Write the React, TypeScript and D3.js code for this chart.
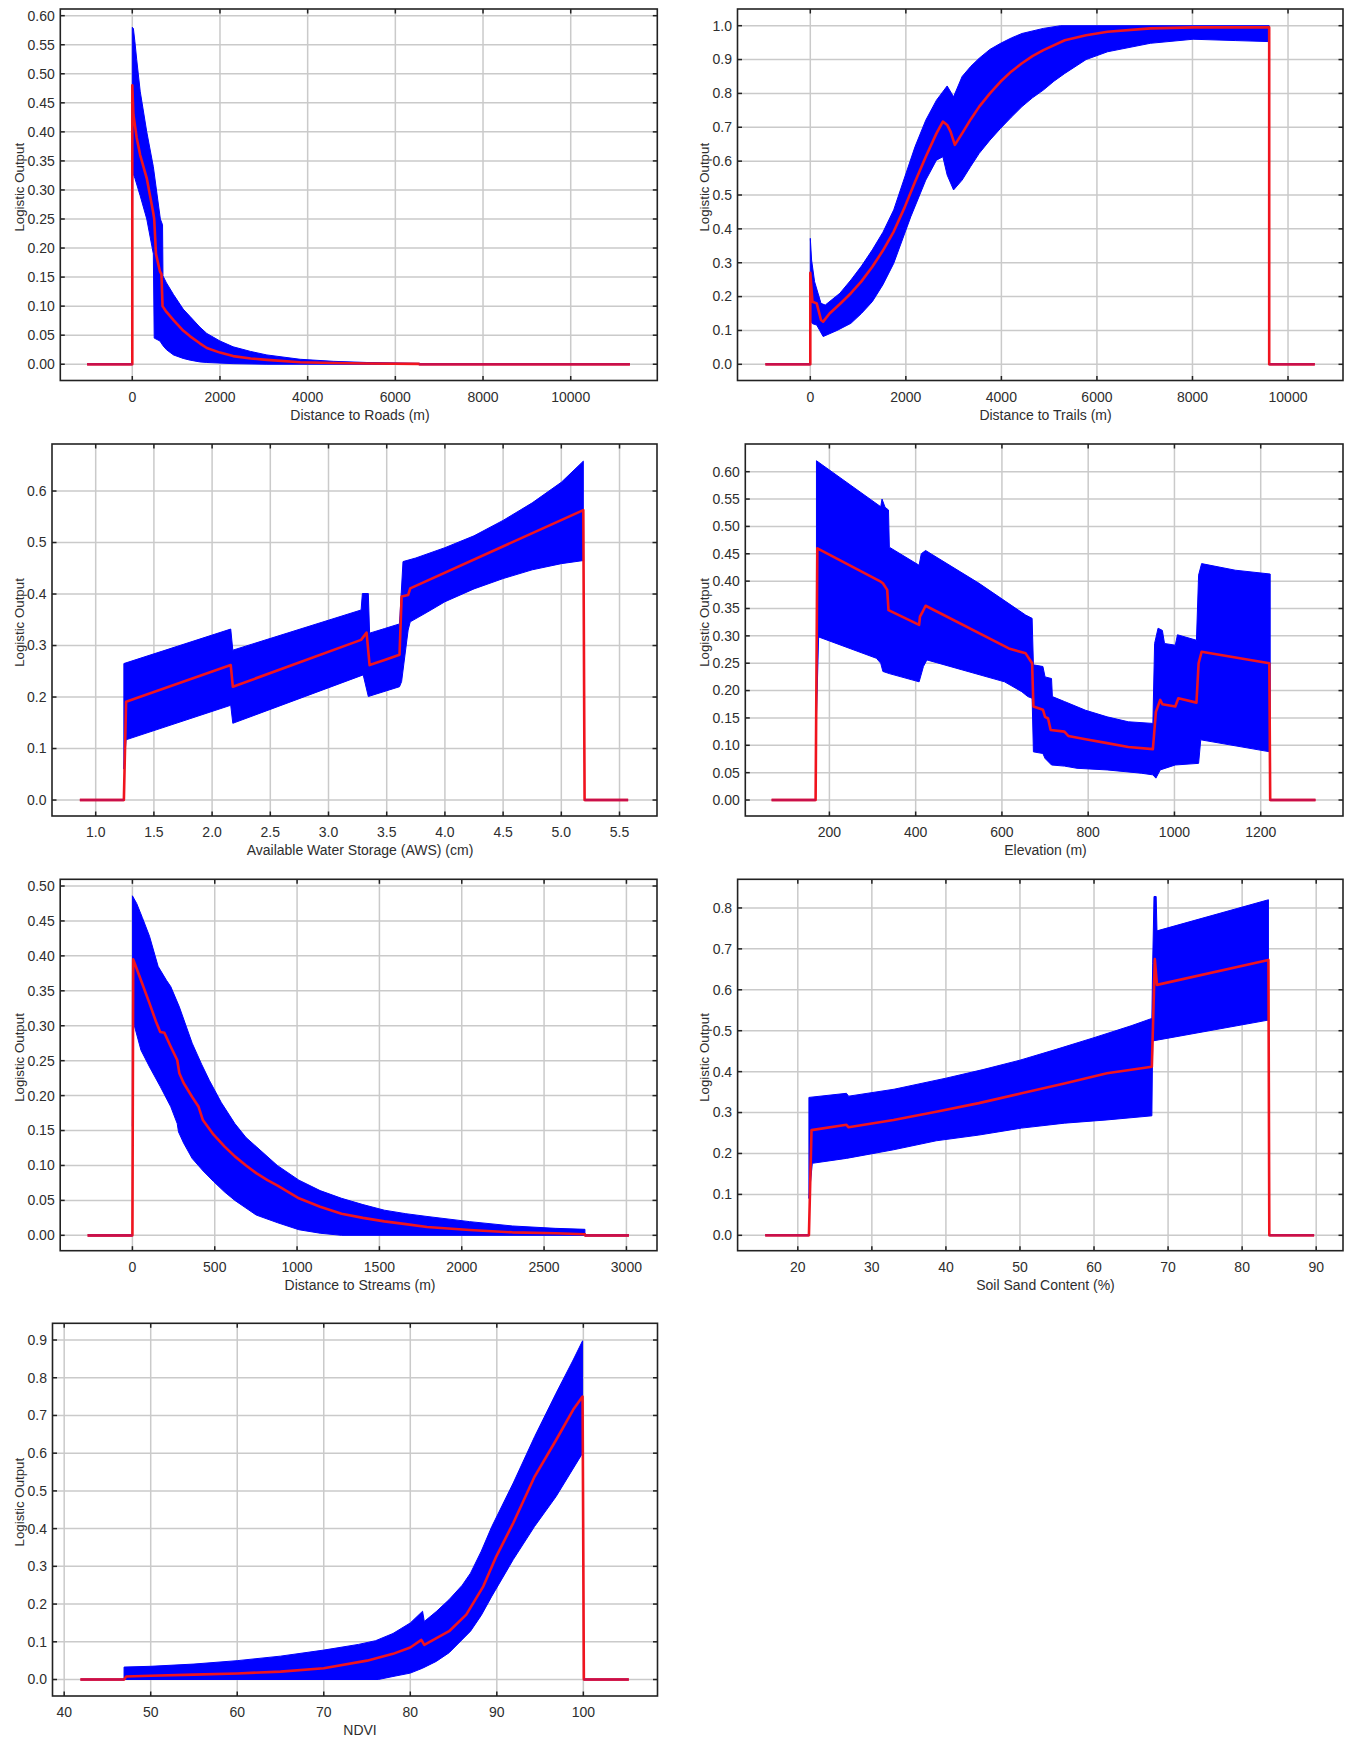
import React from 'react';
import * as d3 from 'd3';

type Pt = [number, number];

// ---- Distance to Roads (m) ----
const roadsMean: Pt[] = [[-1030, 0], [0, 0], [0, 0.48], [25, 0.43], [100, 0.39], [180, 0.36], [330, 0.32], [480, 0.26], [500, 0.25], [540, 0.19], [630, 0.16], [665, 0.155], [690, 0.1], [780, 0.09], [940, 0.076], [1160, 0.058], [1320, 0.048], [1540, 0.036], [1700, 0.028], [2000, 0.02], [2300, 0.014], [2700, 0.01], [3070, 0.0075], [3830, 0.0035], [4590, 0.002], [5350, 0.0012], [6540, 0.0006], [6540, 0], [11350, 0]];
const roadsHi: Pt[] = [[0, 0.58], [25, 0.578], [60, 0.555], [100, 0.525], [180, 0.47], [330, 0.4], [480, 0.34], [640, 0.25], [690, 0.24], [700, 0.152], [780, 0.14], [940, 0.12], [1160, 0.095], [1320, 0.082], [1540, 0.064], [1700, 0.053], [2000, 0.04], [2300, 0.03], [2700, 0.022], [3070, 0.016], [3830, 0.0085], [4590, 0.005], [5350, 0.003], [6540, 0.0015]];
const roadsLo: Pt[] = [[0, 0.19], [10, 0.33], [60, 0.32], [180, 0.29], [330, 0.25], [480, 0.19], [500, 0.045], [630, 0.04], [700, 0.032], [780, 0.025], [940, 0.016], [1160, 0.01], [1320, 0.007], [1540, 0.004], [1700, 0.003], [2300, 0.001], [3070, 0], [6540, 0]];

// ---- Distance to Trails (m) ----
const trailsMean: Pt[] = [[-940, 0], [0, 0], [0, 0.27], [45, 0.185], [134, 0.18], [224, 0.131], [269, 0.126], [403, 0.15], [620, 0.178], [850, 0.21], [1070, 0.245], [1298, 0.288], [1520, 0.336], [1746, 0.392], [1970, 0.462], [2193, 0.539], [2417, 0.613], [2641, 0.682], [2775, 0.717], [2865, 0.707], [2936, 0.687], [3026, 0.648], [3178, 0.682], [3360, 0.724], [3536, 0.761], [3760, 0.8], [3984, 0.835], [4210, 0.865], [4431, 0.889], [4650, 0.91], [4879, 0.928], [5327, 0.957], [5774, 0.972], [6222, 0.982], [7117, 0.992], [8013, 0.995], [9606, 0.995], [9606, 0], [10560, 0]];
const trailsHi: Pt[] = [[0, 0.372], [27, 0.308], [90, 0.244], [224, 0.18], [313, 0.175], [620, 0.21], [850, 0.249], [1070, 0.29], [1298, 0.338], [1520, 0.39], [1746, 0.456], [1970, 0.55], [2193, 0.643], [2417, 0.721], [2641, 0.78], [2865, 0.822], [2999, 0.79], [3178, 0.85], [3360, 0.88], [3536, 0.904], [3760, 0.93], [3984, 0.948], [4210, 0.964], [4431, 0.977], [4879, 0.992], [5237, 1.0], [9606, 1.0]];
const trailsLo: Pt[] = [[0, 0.13], [45, 0.12], [134, 0.116], [269, 0.082], [560, 0.1], [850, 0.121], [1070, 0.15], [1298, 0.185], [1520, 0.235], [1746, 0.298], [2104, 0.436], [2417, 0.544], [2641, 0.603], [2775, 0.613], [2865, 0.559], [2999, 0.515], [3178, 0.544], [3360, 0.585], [3536, 0.623], [3760, 0.662], [3984, 0.697], [4210, 0.73], [4431, 0.761], [4650, 0.787], [4879, 0.81], [5100, 0.836], [5327, 0.859], [5774, 0.9], [6222, 0.923], [7117, 0.948], [8013, 0.96], [8908, 0.956], [9606, 0.953]];

// ---- Available Water Storage (AWS) (cm) ----
const awsMean: Pt[] = [[0.864, 0], [1.242, 0], [1.261, 0.191], [2.16, 0.262], [2.178, 0.22], [3.28, 0.311], [3.327, 0.325], [3.353, 0.262], [3.482, 0.272], [3.61, 0.282], [3.628, 0.395], [3.684, 0.398], [3.702, 0.411], [5.189, 0.563], [5.2, 0], [5.574, 0]];
const awsHi: Pt[] = [[1.242, 0.265], [2.16, 0.332], [2.178, 0.291], [3.28, 0.369], [3.291, 0.401], [3.342, 0.401], [3.353, 0.324], [3.482, 0.333], [3.61, 0.342], [3.64, 0.463], [3.75, 0.47], [4.0, 0.49], [4.25, 0.513], [4.5, 0.543], [4.75, 0.577], [5.0, 0.617], [5.189, 0.658]];
const awsLo: Pt[] = [[1.242, 0.06], [1.261, 0.117], [2.16, 0.184], [2.178, 0.149], [3.298, 0.243], [3.342, 0.201], [3.61, 0.22], [3.628, 0.23], [3.684, 0.33], [3.702, 0.346], [3.85, 0.365], [4.0, 0.385], [4.25, 0.41], [4.5, 0.43], [4.75, 0.447], [5.0, 0.459], [5.189, 0.465]];

// ---- Elevation (m) ----
const elevMean: Pt[] = [[66, 0], [168, 0], [172, 0.46], [319, 0.399], [324, 0.396], [334, 0.384], [337, 0.347], [408, 0.32], [410, 0.335], [416, 0.344], [423, 0.355], [616, 0.277], [655, 0.268], [665, 0.256], [670, 0.25], [673, 0.171], [695, 0.165], [700, 0.152], [707, 0.149], [713, 0.128], [745, 0.125], [754, 0.117], [794, 0.111], [844, 0.104], [893, 0.097], [950, 0.093], [957, 0.161], [967, 0.183], [972, 0.175], [1002, 0.171], [1009, 0.186], [1051, 0.178], [1056, 0.25], [1063, 0.271], [1220, 0.25], [1222, 0], [1327, 0]];
const elevHi: Pt[] = [[170, 0.62], [319, 0.536], [322, 0.55], [329, 0.535], [337, 0.53], [339, 0.462], [408, 0.429], [413, 0.45], [423, 0.456], [547, 0.396], [655, 0.338], [670, 0.332], [673, 0.247], [695, 0.244], [700, 0.225], [715, 0.222], [717, 0.189], [745, 0.18], [794, 0.164], [844, 0.152], [893, 0.143], [950, 0.14], [954, 0.286], [962, 0.314], [972, 0.31], [977, 0.286], [1002, 0.283], [1007, 0.302], [1051, 0.292], [1056, 0.411], [1063, 0.432], [1141, 0.42], [1222, 0.413]];
const elevLo: Pt[] = [[170, 0.152], [175, 0.298], [309, 0.259], [319, 0.25], [324, 0.235], [339, 0.231], [408, 0.216], [418, 0.244], [426, 0.256], [606, 0.216], [646, 0.198], [660, 0.189], [670, 0.186], [673, 0.088], [695, 0.085], [700, 0.076], [715, 0.064], [745, 0.062], [774, 0.058], [844, 0.055], [923, 0.049], [950, 0.046], [957, 0.04], [967, 0.055], [1002, 0.064], [1056, 0.067], [1061, 0.11], [1222, 0.088]];

// ---- Distance to Streams (m) ----
const streamsMean: Pt[] = [[-272, 0], [0, 0], [5, 0.395], [52, 0.365], [104, 0.332], [143, 0.306], [169, 0.291], [194, 0.29], [233, 0.27], [272, 0.251], [285, 0.232], [311, 0.218], [363, 0.198], [402, 0.184], [428, 0.165], [493, 0.144], [560, 0.127], [622, 0.113], [690, 0.1], [752, 0.089], [820, 0.079], [882, 0.071], [1011, 0.053], [1140, 0.041], [1270, 0.031], [1400, 0.025], [1530, 0.02], [1660, 0.016], [1789, 0.012], [2048, 0.0076], [2307, 0.0043], [2567, 0.003], [2748, 0.0015], [2748, 0], [3015, 0]];
const streamsHi: Pt[] = [[0, 0.486], [26, 0.475], [60, 0.455], [104, 0.428], [156, 0.385], [207, 0.365], [233, 0.356], [285, 0.327], [363, 0.275], [420, 0.245], [467, 0.222], [540, 0.19], [622, 0.16], [690, 0.14], [752, 0.127], [880, 0.1], [1011, 0.079], [1140, 0.064], [1270, 0.053], [1400, 0.044], [1530, 0.036], [1660, 0.031], [1789, 0.027], [2048, 0.0196], [2307, 0.0134], [2567, 0.01], [2748, 0.0086]];
const streamsLo: Pt[] = [[0, 0.156], [5, 0.306], [52, 0.265], [104, 0.241], [169, 0.213], [233, 0.184], [272, 0.16], [280, 0.148], [311, 0.132], [363, 0.11], [430, 0.092], [493, 0.077], [560, 0.062], [622, 0.05], [690, 0.039], [752, 0.029], [882, 0.018], [1011, 0.008], [1140, 0.003], [1270, 0], [2748, 0]];

// ---- Soil Sand Content (%) ----
const sandMean: Pt[] = [[15.6, 0], [21.5, 0], [21.85, 0.257], [26.57, 0.27], [26.86, 0.264], [32.92, 0.282], [38.69, 0.302], [44.45, 0.323], [50.22, 0.347], [55.99, 0.371], [61.75, 0.396], [67.81, 0.412], [68.21, 0.675], [68.5, 0.612], [83.55, 0.673], [83.67, 0], [89.72, 0]];
const sandHi: Pt[] = [[21.5, 0.337], [26.57, 0.347], [26.86, 0.34], [33, 0.357], [40, 0.384], [45, 0.405], [50, 0.428], [55, 0.455], [60, 0.483], [65, 0.512], [67.81, 0.53], [67.92, 0.665], [68.1, 0.828], [68.39, 0.828], [68.5, 0.744], [83.55, 0.82]];
const sandLo: Pt[] = [[21.5, 0.09], [21.96, 0.176], [26.57, 0.188], [32.92, 0.209], [38.69, 0.231], [44.45, 0.245], [50.22, 0.262], [55.99, 0.274], [61.75, 0.282], [67.81, 0.292], [67.92, 0.475], [83.55, 0.526]];

// ---- NDVI ----
const ndviMean: Pt[] = [[41.88, 0], [46.92, 0], [47.17, 0.008], [50, 0.01], [55, 0.013], [60, 0.016], [65, 0.021], [70, 0.03], [75, 0.05], [78, 0.068], [80, 0.085], [81.28, 0.105], [81.62, 0.092], [84.49, 0.128], [86.47, 0.172], [88.44, 0.247], [89.93, 0.326], [91.9, 0.415], [94.37, 0.538], [96.85, 0.635], [98.82, 0.715], [99.91, 0.75], [100.06, 0], [105.25, 0]];
const ndviHi: Pt[] = [[46.92, 0.033], [50, 0.035], [55, 0.041], [60, 0.05], [65, 0.062], [70, 0.078], [74, 0.093], [76, 0.103], [78, 0.122], [80, 0.15], [81.42, 0.181], [81.62, 0.154], [83, 0.18], [84.49, 0.212], [86, 0.25], [86.96, 0.282], [88.2, 0.34], [89.43, 0.406], [91.9, 0.521], [94.37, 0.644], [96.85, 0.759], [98.82, 0.847], [99.91, 0.898]];
const ndviLo: Pt[] = [[46.92, 0], [76.3, 0], [78, 0.008], [80, 0.017], [81.42, 0.03], [83, 0.048], [84.49, 0.071], [86.96, 0.128], [88.2, 0.17], [89.43, 0.221], [91.9, 0.318], [94.37, 0.406], [96.85, 0.485], [99.91, 0.6]];

// tick labels
const distTicks10k = [0, 2000, 4000, 6000, 8000, 10000];
const awsTicks = [1.0, 1.5, 2.0, 2.5, 3.0, 3.5, 4.0, 4.5, 5.0, 5.5];
const elevTicks = [200, 400, 600, 800, 1000, 1200];
const streamTicks = [0, 500, 1000, 1500, 2000, 2500, 3000];
const sandTicks = [20, 30, 40, 50, 60, 70, 80, 90];
const ndviTicks = [40, 50, 60, 70, 80, 90, 100];
const yTicks060 = [0, 0.05, 0.1, 0.15, 0.2, 0.25, 0.3, 0.35, 0.4, 0.45, 0.5, 0.55, 0.6];
const yTicks050 = [0, 0.05, 0.1, 0.15, 0.2, 0.25, 0.3, 0.35, 0.4, 0.45, 0.5];
const yTicks10 = [0, 0.1, 0.2, 0.3, 0.4, 0.5, 0.6, 0.7, 0.8, 0.9, 1.0];
const yTicks06 = [0, 0.1, 0.2, 0.3, 0.4, 0.5, 0.6];
const yTicks08 = [0, 0.1, 0.2, 0.3, 0.4, 0.5, 0.6, 0.7, 0.8];
const yTicks09 = [0, 0.1, 0.2, 0.3, 0.4, 0.5, 0.6, 0.7, 0.8, 0.9];

const panels = [
  { title: 'Distance to Roads (m)', col: 0, box: [60.3, 9, 657.3, 380.5], xd: [-1642, 11975], yd: [-0.028, 0.6115], xt: distTicks10k, xdec: 0, yt: yTicks060, ydec: 2, mean: roadsMean, hi: roadsHi, lo: roadsLo },
  { title: 'Distance to Trails (m)', col: 1, box: [737.5, 9, 1343, 380.5], xd: [-1524, 11151], yd: [-0.0478, 1.0493], xt: distTicks10k, xdec: 0, yt: yTicks10, ydec: 1, mean: trailsMean, hi: trailsHi, lo: trailsLo },
  { title: 'Available Water Storage (AWS) (cm)', col: 0, box: [52, 444, 657, 816], xd: [0.6246, 5.822], yd: [-0.031, 0.6913], xt: awsTicks, xdec: 1, yt: yTicks06, ydec: 1, mean: awsMean, hi: awsHi, lo: awsLo },
  { title: 'Elevation (m)', col: 1, box: [745.3, 444, 1343, 816], xd: [5, 1390.8], yd: [-0.0292, 0.6506], xt: elevTicks, xdec: 0, yt: yTicks060, ydec: 2, mean: elevMean, hi: elevHi, lo: elevLo },
  { title: 'Distance to Streams (m)', col: 0, box: [60.2, 879.3, 657, 1250.7], xd: [-438.5, 3185.7], yd: [-0.022, 0.5096], xt: streamTicks, xdec: 0, yt: yTicks050, ydec: 2, mean: streamsMean, hi: streamsHi, lo: streamsLo },
  { title: 'Soil Sand Content (%)', col: 1, box: [737.6, 879.3, 1343, 1250.7], xd: [11.87, 93.62], yd: [-0.0376, 0.87], xt: sandTicks, xdec: 0, yt: yTicks08, ydec: 1, mean: sandMean, hi: sandHi, lo: sandLo },
  { title: 'NDVI', col: 0, box: [52.5, 1323.3, 657.5, 1696], xd: [38.65, 108.57], yd: [-0.0437, 0.9443], xt: ndviTicks, xdec: 0, yt: yTicks09, ydec: 1, mean: ndviMean, hi: ndviHi, lo: ndviLo },
];

const FONT = '"Liberation Sans", Arial, Helvetica, sans-serif';
const TXT = '#2e2e2e';

function Panel({ p }: { p: typeof panels[number] }) {
  const [L, T, R, B] = p.box;
  const x = d3.scaleLinear().domain(p.xd).range([L, R]);
  const y = d3.scaleLinear().domain(p.yd).range([B, T]);
  const line = d3.line<Pt>().x(d => x(d[0])).y(d => y(d[1]));
  const zero = d3.line<Pt>().defined(d => d[1] === 0).x(d => x(d[0])).y(d => y(d[1]));
  const band = [...p.hi, ...p.lo.slice().reverse()];
  const titleX = p.col === 0 ? 360 : 1045.5;
  const yTitleX = p.col === 0 ? 19.2 : 704.3;
  const tk = 4.5;
  return (
    <g>
      {p.xt.map(v => (
        <line key={'gx' + v} x1={x(v)} x2={x(v)} y1={T} y2={B} stroke="#cacaca" strokeWidth={1.5} />
      ))}
      {p.yt.map(v => (
        <line key={'gy' + v} x1={L} x2={R} y1={y(v)} y2={y(v)} stroke="#cacaca" strokeWidth={1.5} />
      ))}
      <path d={line(band) + 'Z'} fill="#0000ff" stroke="#0000ff" strokeWidth={1} />
      <path d={line(p.mean) || ''} fill="none" stroke="#f0141e" strokeWidth={2.6} strokeLinejoin="round" />
      <path d={zero(p.mean) || ''} fill="none" stroke="#c8104c" strokeWidth={2.6} />
      {p.xt.map(v => (
        <g key={'tx' + v}>
          <line x1={x(v)} x2={x(v)} y1={B} y2={B - tk} stroke="#222" strokeWidth={1.5} />
          <line x1={x(v)} x2={x(v)} y1={T} y2={T + tk} stroke="#222" strokeWidth={1.5} />
          <text x={x(v)} y={B + 16.5} dy="0.35em" textAnchor="middle" fontSize={14} fill={TXT}>
            {v.toFixed(p.xdec)}
          </text>
        </g>
      ))}
      {p.yt.map(v => (
        <g key={'ty' + v}>
          <line x1={L} x2={L + tk} y1={y(v)} y2={y(v)} stroke="#222" strokeWidth={1.5} />
          <line x1={R} x2={R - tk} y1={y(v)} y2={y(v)} stroke="#222" strokeWidth={1.5} />
          <text x={L - 5.5} y={y(v)} dy="0.35em" textAnchor="end" fontSize={14} fill={TXT}>
            {v.toFixed(p.ydec)}
          </text>
        </g>
      ))}
      <rect x={L} y={T} width={R - L} height={B - T} fill="none" stroke="#222" strokeWidth={1.6} />
      <text x={titleX} y={B + 34.5} dy="0.35em" textAnchor="middle" fontSize={14} fill={TXT}>
        {p.title}
      </text>
      <text
        transform={`translate(${yTitleX},${(T + B) / 2 - 7.5}) rotate(-90)`}
        dy="0.35em"
        textAnchor="middle"
        fontSize={13.3}
        fill={TXT}
      >
        Logistic Output
      </text>
    </g>
  );
}

export default function App() {
  return (
    <svg
      width={1349}
      height={1738}
      style={{ position: 'absolute', left: 0, top: 0, background: '#fff' }}
      fontFamily={FONT}
    >
      {panels.map(p => (
        <Panel key={p.title} p={p} />
      ))}
    </svg>
  );
}
